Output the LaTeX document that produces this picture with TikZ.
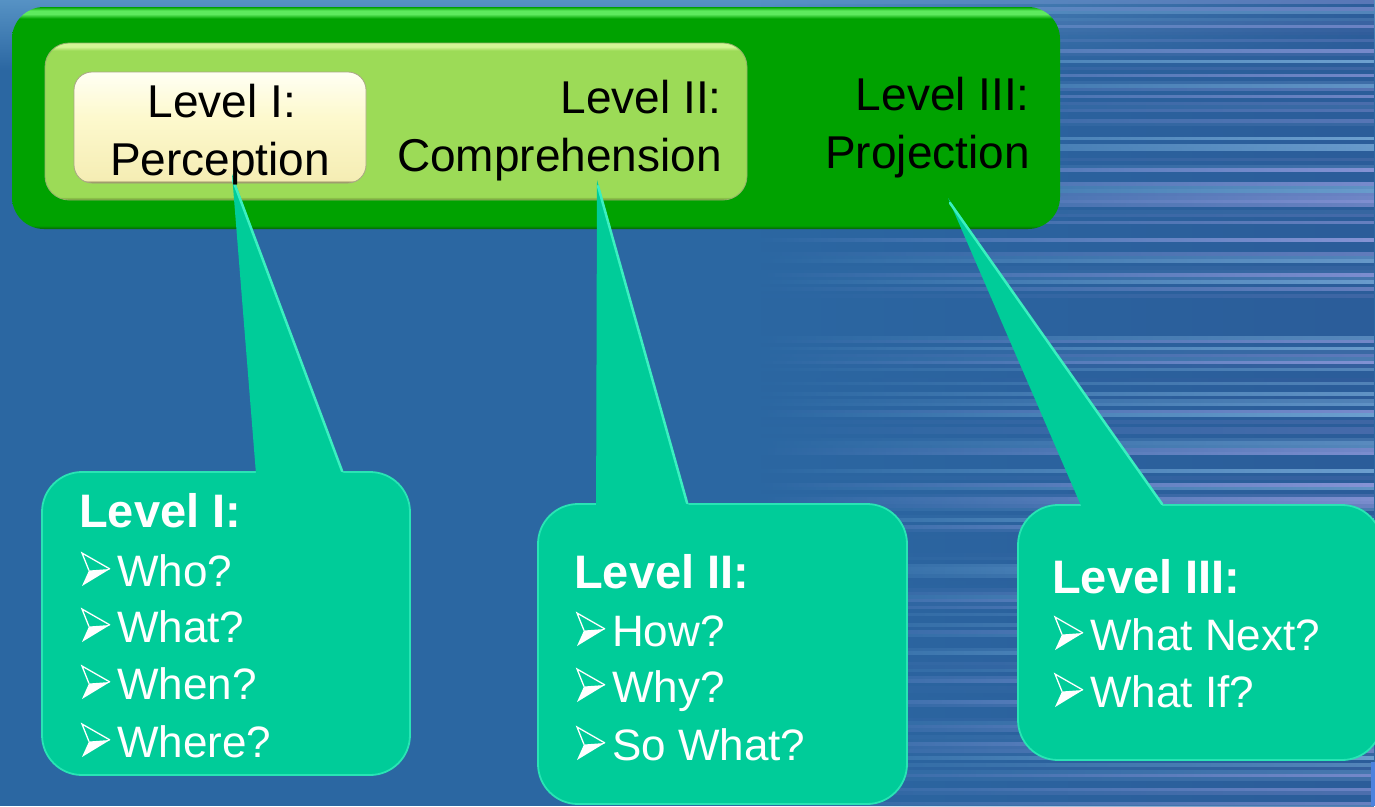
\documentclass[tikz,border=0pt]{standalone}
\usepackage{fontspec}
\setmainfont{Liberation Sans}
\usetikzlibrary{calc,fadings}

% palette
\definecolor{bgblue}{HTML}{2B67A2}
\definecolor{bgtop}{HTML}{5692C4}
\definecolor{stripeL}{HTML}{8A96D8}
\definecolor{stripeC}{HTML}{70A3D2}
\definecolor{stripeD}{HTML}{2C5A98}
\definecolor{edgeblue}{HTML}{4C82DE}
\definecolor{frameG}{HTML}{00A200}
\definecolor{frameHi}{HTML}{5EEA5E}
\definecolor{frameLo}{HTML}{066406}
\definecolor{midG}{HTML}{9CDB57}
\definecolor{midHi}{HTML}{D2F695}
\definecolor{midLo}{HTML}{66902A}
\definecolor{creamTop}{HTML}{FFFFF4}
\definecolor{creamMid}{HTML}{FDF9CE}
\definecolor{creamBot}{HTML}{F5EDB4}
\definecolor{creamLo}{HTML}{6F6A34}
\definecolor{bubble}{HTML}{00CC99}
\definecolor{bubbleHi}{HTML}{3BEFC0}

% bevelled fills: thin dark rim at the bottom, bright rim at the top
\pgfdeclareverticalshading{frameshade}{100bp}{color(0bp)=(frameLo); color(25bp)=(frameLo); color(25.8bp)=(frameG); color(72.4bp)=(frameG); color(73.4bp)=(frameHi); color(74.2bp)=(frameHi); color(75bp)=(frameG); color(100bp)=(frameG)}
\pgfdeclareverticalshading{midshade}{100bp}{color(0bp)=(midLo); color(25bp)=(midLo); color(26bp)=(midG); color(72.6bp)=(midG); color(73.8bp)=(midHi); color(75bp)=(midHi); color(100bp)=(midHi)}
\pgfdeclareverticalshading{creamshade}{100bp}{color(0bp)=(creamLo); color(25bp)=(creamLo); color(26.3bp)=(creamBot); color(55bp)=(creamMid); color(75bp)=(creamTop); color(100bp)=(creamTop)}

% stripes fade in from the left
\tikzfading[name=stripefade, left color=transparent!100, middle color=transparent!0, right color=transparent!0]

\begin{document}
\begin{tikzpicture}[x=1pt,y=-1pt,
  framebox/.style={shade, shading=frameshade, rounded corners=32pt, inner sep=0pt,
    minimum width=1048pt, minimum height=222pt},
  midbox/.style={shade, shading=midshade, rounded corners=24pt, inner sep=0pt,
    draw=midLo!70, line width=0.8pt, minimum width=702pt, minimum height=157pt},
  creambox/.style={shade, shading=creamshade, rounded corners=18pt, inner sep=0pt,
    draw=creamLo!60, line width=0.8pt, minimum width=292pt, minimum height=111pt},
  bubblebox/.style={fill=bubble, draw=bubbleHi!70!bubble, line width=1.8pt, rounded corners=40pt, inner sep=0pt},
  wedge/.style={fill=bubble},
  wedgeedge/.style={draw=bubbleHi, line width=2.5pt, line cap=round},
  toptext/.style={inner sep=0pt, text=black, font=\fontsize{46pt}{52pt}\selectfont},
  head/.style={anchor=base west, inner sep=0pt, text=white, font=\fontsize{47pt}{52pt}\selectfont\bfseries},
  item/.style={anchor=base west, inner sep=0pt, text=white, font=\fontsize{44pt}{50pt}\selectfont},
  % three-dimensional arrowhead bullet: outlined upper facet, solid lower facet
  pics/arrowbul/.style={code={
    \fill[white] (7,-15.5) -- (28,-17) -- (0,0) -- cycle;
    \draw[white, line width=1.3pt, line join=miter] (7,-15.5) -- (0,-33) -- (28,-17);
  }}
]
\useasboundingbox (0,0) rectangle (1375,806);

% backdrop
\fill[bgblue] (0,0) rectangle (1375,806);
\shade[top color=bgtop, bottom color=bgblue] (0,0) rectangle (1375,70);

% brushed stripes on the right
\pgfmathsetseed{11}
\foreach \k in {0,...,230}{
  \pgfmathsetmacro\yy{\k*3.5}
  \pgfmathrandominteger{\rr}{0}{100}
  \pgfmathrandominteger{\cc}{0}{2}
  \ifnum\cc=0 \colorlet{sc}{stripeL!\rr!stripeD}\else
    \ifnum\cc=1 \colorlet{sc}{stripeC!\rr!stripeD}\else \colorlet{sc}{stripeD!80!bgblue}\fi\fi
  \fill[sc, path fading=stripefade] (760,\yy) rectangle (1375,\yy+3.6);
}
\fill[edgeblue] (1371,762) rectangle (1375,806);

% header: three nested levels
\node[framebox] (frame) at (536,118) {};
\node[midbox] (compbox) at (396,121.5) {};
\node[creambox] (percbox) at (220,127.5) {};

% callout bubbles
\coordinate (tip1) at (232,174);
\coordinate (tip2) at (597,180);
\coordinate (tip3) at (948,198);

\node[bubblebox, minimum width=368pt, minimum height=303pt] (bub1) at (226,623.5) {};
\node[bubblebox, minimum width=369pt, minimum height=300pt] (bub2) at (722.5,654) {};
\node[bubblebox, minimum width=364pt, minimum height=255pt] (bub3) at (1200,632.5) {};

\fill[wedge] (tip1) -- ($(bub1.north west)+(215,4)$) -- ($(bub1.north west)+(303,4)$) -- cycle;
\fill[wedge] (tip2) -- ($(bub2.north west)+(59,4)$) -- ($(bub2.north west)+(152,4)$) -- cycle;
\fill[wedge] (tip3) -- ($(bub3.north west)+(65,4)$) -- ($(bub3.north west)+(147,4)$) -- cycle;

\draw[wedgeedge] ($(tip1)+(1,6)$) -- ($(bub1.north west)+(301,0)$);
\draw[wedgeedge] ($(tip2)+(1,6)$) -- ($(bub2.north west)+(150,0)$);
\draw[wedgeedge] ($(tip3)+(2,5)$) -- ($(bub3.north west)+(145,0)$);

% header texts
\node[toptext, anchor=base] (lv1) at (222,117) {Level I:};
\node[toptext, anchor=base] (perc) at (220,175) {Perception};
\node[toptext, anchor=base east] (lv2) at (722,113) {Level II:};
\node[toptext, anchor=base east] (comp) at (722,171) {Comprehension};
\node[toptext, anchor=base east] (lv3) at (1030,110) {Level III:};
\node[toptext, anchor=base east] (proj) at (1030,168) {Projection};

% bubble I
\node[head] (h1) at (79,527) {Level I:};
\foreach \yb in {586,642,699,757} \pic at (82,\yb) {arrowbul};
\node[item] (w1) at (117,586) {Who?};
\node[item] (w2) at (117,642) {What?};
\node[item] (w3) at (117,699) {When?};
\node[item] (w4) at (117,757) {Where?};

% bubble II
\node[head] (h2) at (574,588) {Level II:};
\foreach \yb in {646,702,760} \pic at (577,\yb) {arrowbul};
\node[item] (x1) at (612,646) {How?};
\node[item] (x2) at (612,702) {Why?};
\node[item] (x3) at (612,760) {So What?};

% bubble III
\node[head] (h3) at (1052,593) {Level III:};
\foreach \yb in {650,707} \pic at (1055,\yb) {arrowbul};
\node[item] (y1) at (1090,650) {What Next?};
\node[item] (y2) at (1090,707) {What If?};
\end{tikzpicture}
\end{document}
